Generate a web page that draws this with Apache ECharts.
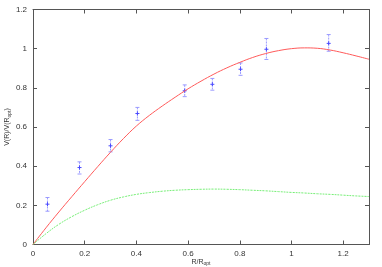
<!DOCTYPE html>
<html><head><meta charset="utf-8">
<script src="https://cdn.jsdelivr.net/npm/echarts@6/dist/echarts.min.js"></script>
<style>html,body{margin:0;padding:0;background:#fff}#c{width:382px;height:267px}</style>
</head><body><div id="c"></div>
<script>
// Model curve (red, solid)
const redX = [0, 0.05, 0.1, 0.15, 0.2, 0.25, 0.3, 0.35, 0.4, 0.45, 0.5, 0.55, 0.6, 0.65, 0.7, 0.75, 0.8, 0.85, 0.9, 0.95, 1.0, 1.05, 1.1, 1.15, 1.2, 1.25, 1.3];
const redY = [0, 0.085, 0.166, 0.244, 0.321, 0.397, 0.471, 0.541, 0.605, 0.659, 0.707, 0.752, 0.795, 0.834, 0.870, 0.902, 0.930, 0.955, 0.975, 0.990, 1.0, 1.004, 1.002, 0.993, 0.979, 0.963, 0.946];
// Disk component (green, dashed)
const greenX = [0, 0.05, 0.1, 0.15, 0.2, 0.25, 0.3, 0.35, 0.4, 0.45, 0.5, 0.55, 0.6, 0.65, 0.7, 0.75, 0.8, 0.85, 0.9, 0.95, 1.0, 1.05, 1.1, 1.15, 1.2, 1.25, 1.3];
const greenY = [0, 0.055, 0.103, 0.142, 0.175, 0.203, 0.226, 0.243, 0.256, 0.265, 0.272, 0.277, 0.280, 0.282, 0.283, 0.282, 0.280, 0.277, 0.274, 0.270, 0.266, 0.263, 0.259, 0.256, 0.252, 0.248, 0.245];
// Data points with error bars
const ptX  = [0.056, 0.18, 0.30, 0.404, 0.587, 0.694, 0.803, 0.903, 1.144];
const ptY  = [0.206, 0.393, 0.504, 0.669, 0.785, 0.818, 0.895, 0.997, 1.027];
const ptLo = [0.17, 0.36, 0.473, 0.634, 0.755, 0.788, 0.864, 0.945, 0.987];
const ptHi = [0.24, 0.422, 0.536, 0.70, 0.815, 0.848, 0.927, 1.052, 1.072];
const xTicks = [0, 0.2, 0.4, 0.6, 0.8, 1, 1.2];
const yTicks = [0, 0.2, 0.4, 0.6, 0.8, 1, 1.2];

const chart = echarts.init(document.getElementById('c'), null, {renderer: 'canvas'});
const font = 'Liberation Sans, Arial, sans-serif';
const lineCol = '#555';
function axisBase(extra) {
  return Object.assign({
    type: 'value', splitLine: {show: false},
    axisLine: {show: true, onZero: false, lineStyle: {color: lineCol, width: 1}},
    axisTick: {show: true, inside: true, length: 4, lineStyle: {color: lineCol}},
  }, extra);
}
const fmt = v => String(+v.toFixed(1));
const nameRich = {
  a: {fontSize: 7, color: '#333', fontFamily: font},
  s: {fontSize: 5, color: '#333', fontFamily: font, padding: [4, 0, 0, 0]}
};
chart.setOption({
  animation: false,
  grid: {left: 33, right: 13, top: 9.5, bottom: 22.5, containLabel: false, outerBoundsMode: 'none'},
  xAxis: [
    axisBase({min: 0, max: 1.3, interval: 0.2, position: 'bottom',
      axisLabel: {fontSize: 8, color: '#333', fontFamily: font, margin: 5, formatter: v => xTicks.includes(+v.toFixed(1)) ? fmt(v) : ''},
      name: '{a|R/R}{s|opt}', nameLocation: 'middle', nameGap: 13, nameMoveOverlap: false,
      nameTextStyle: {rich: nameRich}
    }),
    axisBase({min: 0, max: 1.3, interval: 0.2, position: 'top', axisLabel: {show: false}})
  ],
  yAxis: [
    axisBase({min: 0, max: 1.2, interval: 0.2, position: 'left',
      axisLabel: {fontSize: 8, color: '#333', fontFamily: font, margin: 6, formatter: v => yTicks.includes(+v.toFixed(1)) ? fmt(v) : ''},
      name: '{a|V(R)/V(R}{s|opt}{a|)}', nameLocation: 'middle', nameGap: 21, nameMoveOverlap: false,
      nameTextStyle: {rich: nameRich}
    }),
    axisBase({min: 0, max: 1.2, interval: 0.2, position: 'right', axisLabel: {show: false}})
  ],
  series: [
    {type: 'line', data: redX.map((x, i) => [x, redY[i]]), smooth: 0.4, showSymbol: false,
     lineStyle: {color: '#ff5a5a', width: 1}},
    {type: 'line', data: greenX.map((x, i) => [x, greenY[i]]), smooth: 0.4, showSymbol: false,
     lineStyle: {color: '#77ee77', width: 1, type: [2, 1]}},
    {type: 'custom', data: ptX.map((x, i) => [x, ptY[i], ptLo[i], ptHi[i]]),
     renderItem: function (params, api) {
       const c = api.coord([api.value(0), api.value(1)]);
       const lo = api.coord([api.value(0), api.value(2)]);
       const hi = api.coord([api.value(0), api.value(3)]);
       const eb = {stroke: '#9a9aff', lineWidth: 1, lineDash: [2, 1]};
       const cap = {stroke: '#9a9aff', lineWidth: 1};
       const pl = {stroke: '#4a4aff', lineWidth: 1};
       return {type: 'group', children: [
         {type: 'line', shape: {x1: c[0], y1: hi[1], x2: c[0], y2: lo[1]}, style: eb},
         {type: 'line', shape: {x1: c[0] - 2, y1: hi[1], x2: c[0] + 2, y2: hi[1]}, style: cap},
         {type: 'line', shape: {x1: c[0] - 2, y1: lo[1], x2: c[0] + 2, y2: lo[1]}, style: cap},
         {type: 'line', shape: {x1: c[0] - 2, y1: c[1], x2: c[0] + 2, y2: c[1]}, style: pl},
         {type: 'line', shape: {x1: c[0], y1: c[1] - 2, x2: c[0], y2: c[1] + 2}, style: pl}
       ]};
     }}
  ]
});
</script></body></html>
